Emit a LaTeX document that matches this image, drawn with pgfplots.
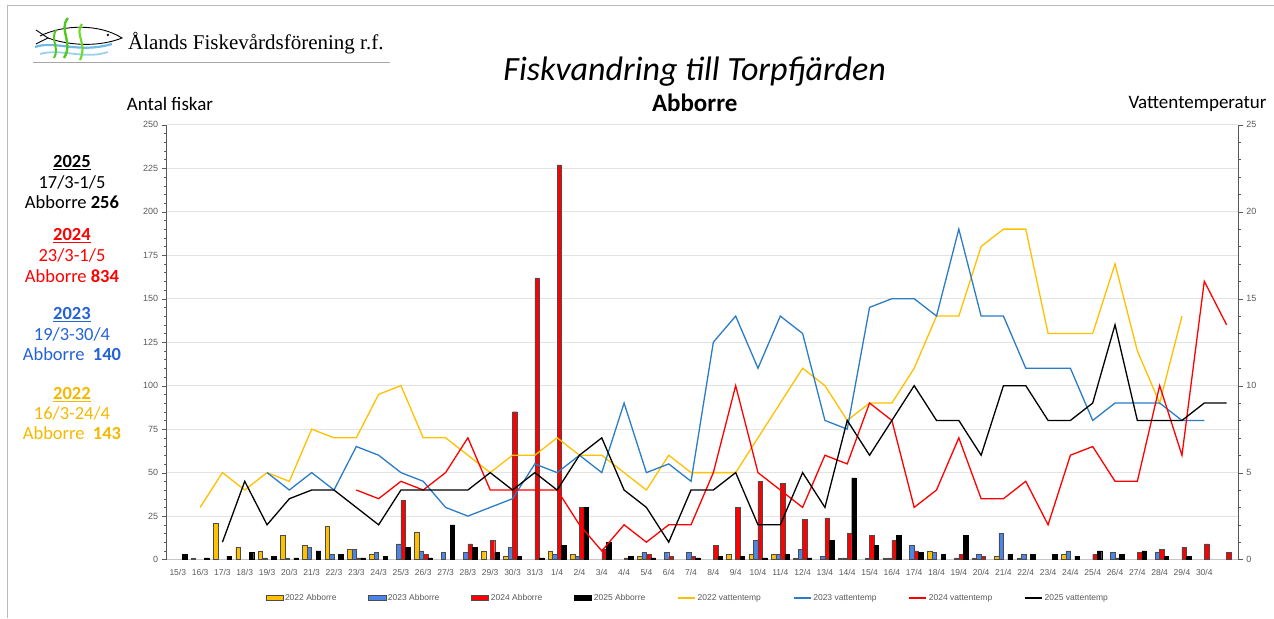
\documentclass[border=0pt]{standalone}
\usepackage{pgfplots}
\pgfplotsset{compat=1.18}
\usepackage{fontspec}
\setmainfont{Liberation Sans}
\newfontfamily\carlito{Carlito}
\newfontfamily\serifl{Liberation Serif}
\definecolor{c22}{HTML}{FFC000}
\definecolor{c23}{HTML}{4A86E8}
\definecolor{c23l}{HTML}{2A7CC7}
\definecolor{c24}{HTML}{FF0000}
\definecolor{c25}{HTML}{000000}
\definecolor{t23}{HTML}{2463D6}
\definecolor{t22}{HTML}{F5B800}
\definecolor{tick}{HTML}{595959}
\begin{document}
\begin{tikzpicture}
\path (0pt,0pt) rectangle (1274pt,-618pt);
\draw[gray!55, line width=1pt] (1274pt,-6pt) -- (8pt,-6pt) -- (8pt,-618pt);
% logo
\draw[line width=2.2pt, color={rgb,255:red,110;green,185;blue,230}] (35pt,-47pt) .. controls (55pt,-40pt) and (78pt,-54pt) .. (112pt,-44pt);
\draw[line width=1.8pt, color={rgb,255:red,150;green,210;blue,240}] (40pt,-54pt) .. controls (60pt,-48pt) and (85pt,-60pt) .. (108pt,-52pt);
\draw[black, line width=0.9pt] (40pt,-36pt) .. controls (65pt,-24pt) and (100pt,-24pt) .. (122pt,-38pt) .. controls (100pt,-47pt) and (70pt,-46pt) .. (48pt,-38pt);
\draw[black, line width=0.9pt] (36pt,-30pt) -- (48pt,-38pt) -- (36pt,-44pt);
\fill[black] (108pt,-35pt) circle (1.3pt);
\draw[color={rgb,255:red,80;green,200;blue,30}, line width=2.4pt] (68pt,-18pt) .. controls (58pt,-30pt) and (74pt,-42pt) .. (64pt,-58pt);
\draw[color={rgb,255:red,110;green,220;blue,40}, line width=2.2pt] (82pt,-24pt) .. controls (74pt,-34pt) and (88pt,-44pt) .. (80pt,-60pt);
\draw[color={rgb,255:red,80;green,200;blue,30}, line width=2pt] (56pt,-30pt) .. controls (50pt,-40pt) and (60pt,-48pt) .. (54pt,-58pt);
\node[anchor=west, inner sep=0pt] at (128pt,-43pt) {\serifl\fontsize{21}{24}\selectfont Ålands Fiskevårdsförening r.f.};
\draw[gray!70, line width=0.8pt] (33pt,-62pt) -- (390pt,-62pt);
% titles
\node at (695pt,-72pt) {\carlito\itshape\fontsize{34}{38}\selectfont Fiskvandring till Torpfjärden};
\node at (695pt,-103pt) {\carlito\bfseries\fontsize{25}{28}\selectfont Abborre};
\node at (170pt,-104pt) {\carlito\fontsize{19}{22}\selectfont Antal fiskar};
\node at (1198pt,-104pt) {\carlito\fontsize{19}{22}\selectfont Vattentemperatur};
% left block
\begin{scope}[every node/.style={font=\carlito\fontsize{18.5}{21}\selectfont, inner sep=0pt}]
\node[c25] at (72pt,-163pt) {\underline{\textbf{2025}}};
\node[c25] at (72pt,-183pt) {17/3-1/5};
\node[c25] at (72pt,-202pt) {Abborre \textbf{256}};
\node[c24] at (72pt,-236pt) {\underline{\textbf{2024}}};
\node[c24] at (72pt,-256pt) {23/3-1/5};
\node[c24] at (72pt,-276pt) {Abborre \textbf{834}};
\node[t23] at (72pt,-315pt) {\underline{\textbf{2023}}};
\node[t23] at (72pt,-335pt) {19/3-30/4};
\node[t23] at (72pt,-354pt) {Abborre\ \ \textbf{140}};
\node[t22] at (72pt,-395pt) {\underline{\textbf{2022}}};
\node[t22] at (72pt,-414pt) {16/3-24/4};
\node[t22] at (72pt,-433pt) {Abborre\ \ \textbf{143}};
\end{scope}
% bars
\begin{axis}[
  scale only axis, width=1071.6pt, height=435pt,
  at={(166.7pt,-559.8pt)}, anchor=south west,
  xmin=-0.5, xmax=47.5, ymin=0, ymax=250,
  ybar=0pt, bar width=4.5pt,
  axis x line*=bottom, axis y line*=left,
  x axis line style={draw=gray!45, -}, y axis line style={draw=black!65, -},
  xtick={0,...,46},
  xticklabels={15/3,16/3,17/3,18/3,19/3,20/3,21/3,22/3,23/3,24/3,25/3,26/3,27/3,28/3,29/3,30/3,31/3,1/4,2/4,3/4,4/4,5/4,6/4,7/4,8/4,9/4,10/4,11/4,12/4,13/4,14/4,15/4,16/4,17/4,18/4,19/4,20/4,21/4,22/4,23/4,24/4,25/4,26/4,27/4,28/4,29/4,30/4},
  xtick style={draw=none},
  ytick={0,25,...,250}, minor y tick num=4,
  tick align=outside, major tick length=5pt, minor tick length=3pt,
  y tick style={black!65}, minor y tick style={black!65},
  ymajorgrids, grid style={gray!22, line width=0.7pt},
  /pgf/number format/assume math mode=true,
  tick label style={font=\fontsize{9}{10}\selectfont, text=tick},
  xticklabel style={font=\fontsize{8.5}{10}\selectfont, yshift=-1pt},
]
\addplot[fill=c22, draw=black!70, line width=0.4pt] coordinates {(1,1)(2,21)(3,7)(4,5)(5,14)(6,8)(7,19)(8,6)(9,3)(11,16)(14,5)(15,2)(17,5)(18,3)(21,2)(25,3)(26,3)(27,3)(28,1)(30,1)(32,1)(34,5)(36,1)(37,2)(38,1)(40,3)};
\addplot[fill=c23, draw=black!70, line width=0.4pt] coordinates {(4,1)(5,1)(6,7)(7,3)(8,6)(9,4)(10,9)(11,5)(12,4)(13,4)(15,7)(17,3)(18,2)(21,4)(22,4)(23,4)(26,11)(27,3)(28,6)(29,2)(30,1)(31,1)(32,1)(33,8)(34,4)(35,1)(36,3)(37,15)(38,3)(40,5)(42,4)(44,4)};
\addplot[fill=c24, draw=black!70, line width=0.4pt] coordinates {(8,1)(10,34)(11,3)(13,9)(14,11)(15,85)(16,162)(17,227)(18,30)(19,6)(20,1)(21,3)(22,2)(23,2)(24,8)(25,30)(26,45)(27,44)(28,23)(29,24)(30,15)(31,14)(32,11)(33,5)(35,3)(36,2)(41,3)(42,1)(43,4)(44,6)(45,7)(46,9)(47,4)};
\addplot[fill=c25, draw=black, line width=0.4pt] coordinates {(0,3)(1,1)(2,2)(3,4)(4,2)(5,1)(6,5)(7,3)(8,1)(9,2)(10,7)(11,1)(12,20)(13,7)(14,4)(15,2)(16,1)(17,8)(18,30)(19,10)(20,2)(21,1)(23,1)(24,2)(25,2)(26,1)(27,3)(28,1)(29,11)(30,47)(31,8)(32,14)(33,4)(34,3)(35,14)(37,3)(38,3)(39,3)(40,2)(41,5)(42,3)(43,5)(44,2)(45,2)};
\end{axis}
% temperature
\begin{axis}[
  scale only axis, width=1071.6pt, height=435pt,
  at={(166.7pt,-559.8pt)}, anchor=south west,
  xmin=-0.5, xmax=47.5, ymin=0, ymax=25,
  axis x line=none, axis y line*=right,
  y axis line style={draw=black!65, -},
  ytick={0,5,...,25}, minor y tick num=4,
  tick align=outside, major tick length=5pt, minor tick length=3pt,
  y tick style={black!65}, minor y tick style={black!65},
  /pgf/number format/assume math mode=true,
  tick label style={font=\fontsize{9}{10}\selectfont, text=tick},
  legend style={at={(0.4865,-0.088)}, anchor=center, draw=none, fill=none,
    legend columns=8, font=\fontsize{8.5}{10}\selectfont, text=tick,
    /tikz/every even column/.append style={column sep=30pt},
    legend cell align=left},
]
\addlegendimage{area legend, fill=c22, draw=black!70}
\addlegendentry{2022 Abborre}
\addlegendimage{area legend, fill=c23, draw=black!70}
\addlegendentry{2023 Abborre}
\addlegendimage{area legend, fill=c24, draw=black!70}
\addlegendentry{2024 Abborre}
\addlegendimage{area legend, fill=c25, draw=black}
\addlegendentry{2025 Abborre}
\addplot[c22, line width=1.3pt, mark=none] coordinates {(1,3)(2,5)(3,4)(4,5)(5,4.5)(6,7.5)(7,7)(8,7)(9,9.5)(10,10)(11,7)(12,7)(13,6)(14,5)(15,6)(16,6)(17,7)(18,6)(19,6)(20,5)(21,4)(22,6)(23,5)(24,5)(25,5)(26,7)(27,9)(28,11)(29,10)(30,8)(31,9)(32,9)(33,11)(34,14)(35,14)(36,18)(37,19)(38,19)(39,13)(40,13)(41,13)(42,17)(43,12)(44,9)(45,14)};
\addlegendentry{2022 vattentemp}
\addplot[c23l, line width=1.3pt, mark=none] coordinates {(4,5)(5,4)(6,5)(7,4)(8,6.5)(9,6)(10,5)(11,4.5)(12,3)(13,2.5)(14,3)(15,3.5)(16,5.5)(17,5)(18,6)(19,5)(20,9)(21,5)(22,5.5)(23,4.5)(24,12.5)(25,14)(26,11)(27,14)(28,13)(29,8)(30,7.5)(31,14.5)(32,15)(33,15)(34,14)(35,19)(36,14)(37,14)(38,11)(39,11)(40,11)(41,8)(42,9)(43,9)(44,9)(45,8)(46,8)};
\addlegendentry{2023 vattentemp}
\addplot[c24, line width=1.3pt, mark=none] coordinates {(8,4)(9,3.5)(10,4.5)(11,4)(12,5)(13,7)(14,4)(15,4)(16,4)(17,4)(18,2)(19,0.5)(20,2)(21,1)(22,2)(23,2)(24,5)(25,10)(26,5)(27,4)(28,3)(29,6)(30,5.5)(31,9)(32,8)(33,3)(34,4)(35,7)(36,3.5)(37,3.5)(38,4.5)(39,2)(40,6)(41,6.5)(42,4.5)(43,4.5)(44,10)(45,6)(46,16)(47,13.5)};
\addlegendentry{2024 vattentemp}
\addplot[c25, line width=1.3pt, mark=none] coordinates {(2,1)(3,4.5)(4,2)(5,3.5)(6,4)(7,4)(8,3)(9,2)(10,4)(11,4)(12,4)(13,4)(14,5)(15,4)(16,5)(17,4)(18,6)(19,7)(20,4)(21,3)(22,1)(23,4)(24,4)(25,5)(26,2)(27,2)(28,5)(29,3)(30,8)(31,6)(32,8)(33,10)(34,8)(35,8)(36,6)(37,10)(38,10)(39,8)(40,8)(41,9)(42,13.5)(43,8)(44,8)(45,8)(46,9)(47,9)};
\addlegendentry{2025 vattentemp}
\end{axis}
\end{tikzpicture}
\end{document}
